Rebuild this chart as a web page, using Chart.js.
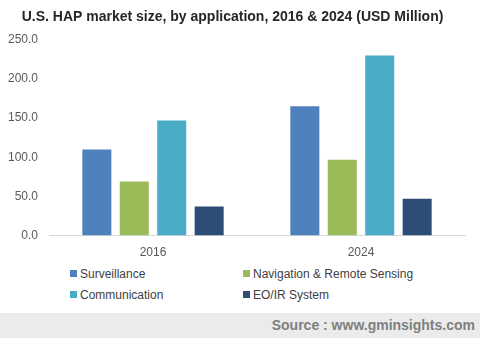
<!DOCTYPE html>
<html lang="en">
<head>
  <meta charset="UTF-8" />
  <title>U.S. HAP market size</title>
  <script src="https://cdn.jsdelivr.net/npm/chart.js"></script>
  <style>
    body { margin: 0; width: 480px; height: 338px; background: #fff; font-family: "Liberation Sans", Arial, sans-serif; overflow: hidden; position: relative; }
    #wrap { position: absolute; left: 0; top: 0; width: 480px; height: 262px; }
    #legend { position: absolute; left: 70px; top: 267px; width: 400px; display: grid; grid-template-columns: 173px 220px; row-gap: 7px; font-size: 12px; color: #404040; }
    #legend span.box { display: inline-block; width: 7px; height: 7px; margin-right: 3px; vertical-align: 1px; }
    #source { position: absolute; left: 0; top: 313px; width: 480px; height: 25px; background: #ebebeb; }
    #source div { position: absolute; right: 5px; top: 4px; font-size: 14px; font-weight: bold; color: #7f7f7f; }
  </style>
</head>
<body>
  <div id="wrap"><canvas id="chart"></canvas></div>
  <div id="legend"></div>
  <div id="source"><div>Source : www.gminsights.com</div></div>

  <script>
    const years = ['2016', '2024'];
    const seriesNames = ['Surveillance', 'Navigation & Remote Sensing', 'Communication', 'EO/IR System'];
    const seriesColors = ['#4f81bd', '#9bbb59', '#4bacc6', '#2c4d75'];
    const surveillance = [110, 165];
    const navigation = [69, 97];
    const communication = [147, 230];
    const eoir = [37, 47];
    const yTicks = [0, 50, 100, 150, 200, 250];

    const values = [surveillance, navigation, communication, eoir];

    const datasets = seriesNames.map((name, i) => ({
      label: name,
      data: values[i],
      backgroundColor: seriesColors[i],
      categoryPercentage: 0.72,
      barPercentage: 0.775
    }));

    new Chart(document.getElementById('chart'), {
      type: 'bar',
      data: { labels: years, datasets: datasets },
      options: {
        responsive: true,
        maintainAspectRatio: false,
        animation: false,
        layout: { padding: { left: 0, right: 15, top: 0, bottom: 0 } },
        plugins: {
          legend: { display: false },
          tooltip: { enabled: false },
          title: {
            display: true,
            text: 'U.S. HAP market size, by application, 2016 & 2024 (USD Million)',
            color: '#262626',
            font: { family: 'Liberation Sans', size: 14, weight: 'bold' },
            padding: { top: 9, bottom: 14 }
          }
        },
        scales: {
          x: {
            grid: { display: false },
            border: { display: true, color: '#d9d9d9' },
            ticks: { color: '#595959', font: { family: 'Liberation Sans', size: 12 }, padding: 2 }
          },
          y: {
            min: 0,
            max: 250,
            grid: { display: false },
            border: { display: false },
            afterBuildTicks: axis => { axis.ticks = yTicks.map(v => ({ value: v })); },
            afterFit: axis => { axis.width = 49; },
            ticks: {
              color: '#595959',
              font: { family: 'Liberation Sans', size: 12 },
              padding: 3,
              callback: v => v.toFixed(1)
            }
          }
        }
      }
    });

    const legend = document.getElementById('legend');
    seriesNames.forEach((name, i) => {
      legend.innerHTML += `<div><span class="box" style="background:${seriesColors[i]}"></span>${name}</div>`;
    });
  </script>
</body>
</html>
